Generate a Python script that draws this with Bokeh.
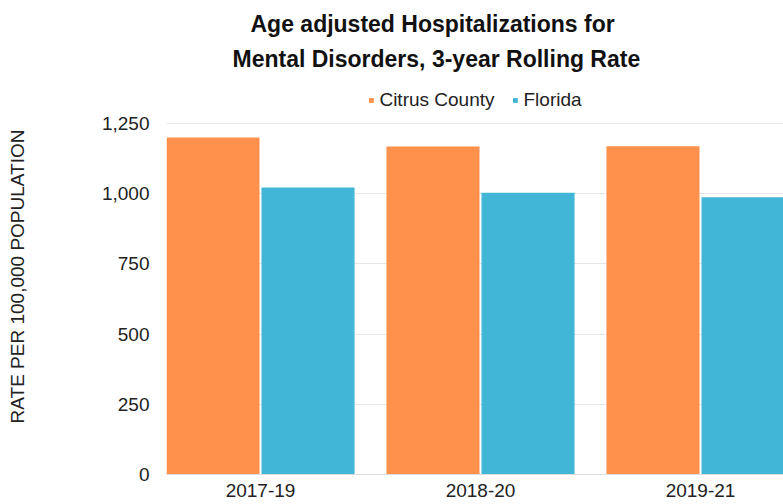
import math
from bokeh.plotting import figure
from bokeh.models import (ColumnDataSource, Range1d, FixedTicker, NumeralTickFormatter,
                          Title, Legend, LegendItem)
from bokeh.embed import file_html
from bokeh.resources import INLINE

# ---- data ----
categories = ["2017-19", "2018-20", "2019-21"]
citrus = [1200, 1168, 1169]
florida = [1022, 1003, 987]
y_ticks = [0, 250, 500, 750, 1000, 1250]
title_lines = ["Age adjusted Hospitalizations for", "Mental Disorders, 3-year Rolling Rate"]
y_title = "RATE PER 100,000 POPULATION"

ORANGE = "#FF914D"
BLUE = "#42B6D6"
FONT = "Liberation Sans"

# ---- geometry (page pixels; figure sits at page origin) ----
W, H = 783, 504
FRAME_L, FRAME_T, FRAME_B = 166, 78, 474
TICK_TOP_PX = 123          # where the top tick (1,250) sits
ML, MT, MB = FRAME_L, FRAME_T, H - FRAME_B
X0_PX, XSTEP = 260.0, 220.0
Y_END = y_ticks[-1] * (FRAME_B - FRAME_T) / (FRAME_B - TICK_TOP_PX)
TITLE_LEFT_PX = [250, 232]
TITLE_STANDOFF = [0, 14]

def px_to_x(px):
    return (px - X0_PX) / XSTEP

x_idx = list(range(len(categories)))
src = ColumnDataSource(dict(
    xc=[i - 0.216 for i in x_idx], xf=[i + 0.216 for i in x_idx],
    citrus=citrus, florida=florida))

p = figure(width=W, height=H, output_backend="svg", toolbar_location=None,
           x_range=Range1d(px_to_x(FRAME_L), px_to_x(W)),
           y_range=Range1d(0, Y_END),
           min_border_left=ML, min_border_top=MT, min_border_bottom=MB,
           min_border_right=0)
p.outline_line_color = None

r1 = p.vbar(x="xc", top="citrus", width=0.423, source=src, fill_color=ORANGE,
            line_color=None)
r2 = p.vbar(x="xf", top="florida", width=0.423, source=src, fill_color=BLUE,
            line_color=None)

# axes
p.xgrid.visible = False
p.ygrid.grid_line_color = "#e6e6e6"
p.yaxis.ticker = FixedTicker(ticks=y_ticks)
p.yaxis.formatter = NumeralTickFormatter(format="0,0")
p.yaxis.axis_line_color = None
p.yaxis.major_tick_line_color = None
p.yaxis.minor_tick_line_color = None
p.yaxis.major_tick_out = 0
p.yaxis.major_label_standoff = 17
p.yaxis.major_label_text_font = FONT
p.yaxis.major_label_text_font_size = "19px"
p.yaxis.major_label_text_color = "#222222"
p.yaxis.axis_label = y_title
p.yaxis.axis_label_standoff = 71
p.yaxis.axis_label_text_font = FONT
p.yaxis.axis_label_text_font_size = "19px"
p.yaxis.axis_label_text_font_style = "normal"
p.yaxis.axis_label_text_color = "#222222"

p.xaxis.ticker = FixedTicker(ticks=x_idx)
p.xaxis.major_label_overrides = {float(i): c for i, c in zip(x_idx, categories)}
p.xaxis.axis_line_color = "#dddddd"
p.xaxis.major_tick_line_color = None
p.xaxis.minor_tick_line_color = None
p.xaxis.major_tick_out = 0
p.xaxis.major_label_standoff = 9
p.xaxis.major_label_text_font = FONT
p.xaxis.major_label_text_font_size = "19px"
p.xaxis.major_label_text_color = "#222222"

legend = Legend(items=[LegendItem(label="Citrus County", renderers=[r1]),
                       LegendItem(label="Florida", renderers=[r2])],
                orientation="horizontal", location="top_center",
                label_text_font=FONT, label_text_font_size="19px",
                label_text_color="#222222",
                glyph_width=6, glyph_height=6, label_standoff=6, spacing=17,
                padding=0, margin=11,
                border_line_color=None, background_fill_alpha=0)
p.add_layout(legend)

for txt, left_px, so in reversed(list(zip(title_lines, TITLE_LEFT_PX, TITLE_STANDOFF))):
    p.add_layout(Title(text=txt, align="left", offset=left_px - FRAME_L, standoff=so,
                       text_font=FONT, text_font_size="23px", text_font_style="bold",
                       text_color="#111111"), "above")

open("out.html", "w").write(file_html(p, INLINE))
